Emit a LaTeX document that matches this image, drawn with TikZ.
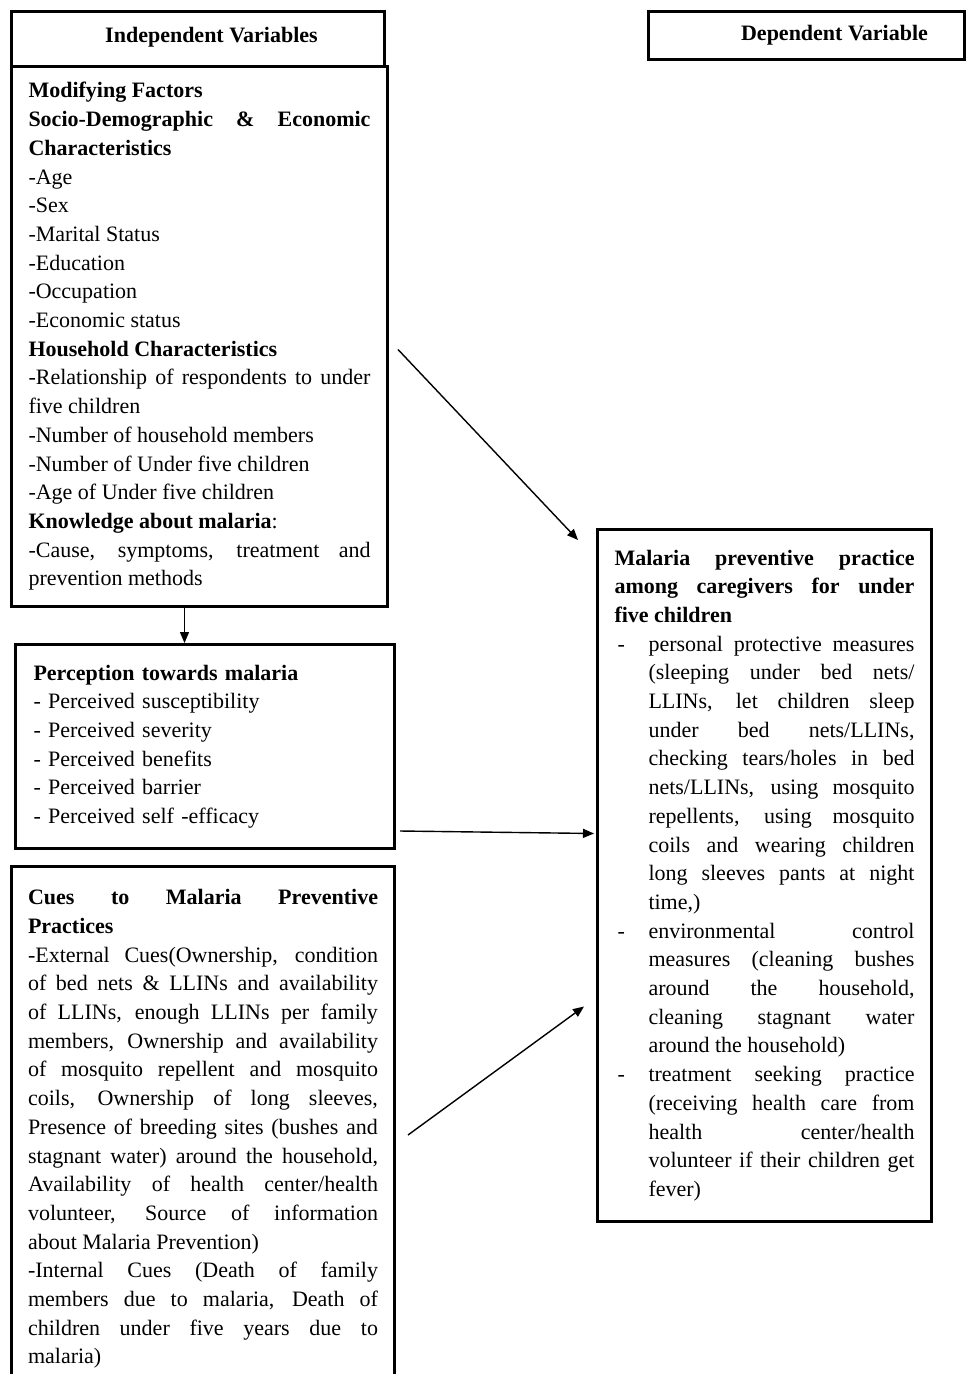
\documentclass[tikz,border=0pt]{standalone}
\usepackage{fontspec}
\setmainfont{Liberation Serif}
\usepackage{tikz}
\usetikzlibrary{
  arrows.meta,
  positioning,
  calc
}
\setlength{\parindent}{0pt}
\tolerance=10000
\hyphenpenalty=10000
\exhyphenpenalty=10000
\newcommand{\boxfont}{\fontsize{22}{28.7}\selectfont}
\newcommand{\dashitem}{\hangindent=34pt\hangafter=1\makebox[34pt][l]{\hspace{3pt}-}}

\begin{document}
\begin{tikzpicture}[x=1pt, y=-1pt,
  varbox/.style={draw, line width=3pt, inner xsep=17pt, anchor=north west, font=\boxfont},
  link/.style={-{Triangle[length=11pt,width=9pt]}, line width=1.4pt}]
  \useasboundingbox (0,0) rectangle (967,1374);
  % column headers
  \node[varbox, minimum width=373, minimum height=55] (indep) at (10,10)
    {\hspace*{27pt}\bfseries Independent Variables\rule[-8pt]{0pt}{0pt}};
  \node[varbox, minimum width=316, minimum height=48] (depend) at (647,10)
    {\hspace*{56pt}\bfseries Dependent Variable};
  % independent variables
  \node[varbox, text width=342, minimum height=540, align=justify] (mod) at (10,65)
    {{\bfseries Modifying Factors\par Socio-Demographic \& Economic\linebreak Characteristics\par}
     -Age\par -Sex\par -Marital Status\par -Education\par -Occupation\par -Economic status\par
     {\bfseries Household Characteristics\par}
     -Relationship of respondents to under\linebreak five children\par
     -Number of household members\par
     -Number of Under five children\par
     -Age of Under five children\par
     {\bfseries Knowledge about malaria}:\par
     -Cause, symptoms, treatment and\linebreak prevention methods};
  \node[varbox, inner xsep=18pt, text width=343, minimum height=204, align=left] (perc) at (14,643)
    {{\bfseries Perception towards malaria}\\
     - Perceived susceptibility\\
     - Perceived severity\\
     - Perceived benefits\\
     - Perceived barrier\\
     - Perceived self -efficacy};
  \node[varbox, inner xsep=16.5pt, text width=350, minimum height=525, align=justify] (cues) at (10,865)
    {{\bfseries Cues to Malaria Preventive\linebreak Practices\par}
     -External Cues(Ownership, condition\linebreak of bed nets \& LLINs and availability\linebreak
     of LLINs, enough LLINs per family\linebreak members, Ownership and availability\linebreak
     of mosquito repellent and mosquito\linebreak coils, Ownership of long sleeves,\linebreak
     Presence of breeding sites (bushes and\linebreak stagnant water) around the household,\linebreak
     Availability of health center/health\linebreak volunteer, Source of information\linebreak
     about Malaria Prevention)\par
     -Internal Cues (Death of family\linebreak members due to malaria, Death of\linebreak
     children under five years due to\linebreak malaria)};
  % dependent variable
  \node[varbox, text width=300, minimum height=692, align=justify] (dep) at (596,528)
    {{\bfseries Malaria preventive practice\linebreak among caregivers for under\linebreak five children\par}
     \dashitem personal protective measures\linebreak (sleeping under bed nets/\linebreak
     LLINs, let children sleep\linebreak under bed nets/LLINs,\linebreak
     checking tears/holes in bed\linebreak nets/LLINs, using mosquito\linebreak
     repellents, using mosquito\linebreak coils and wearing children\linebreak
     long sleeves pants at night\linebreak time,)\par
     \dashitem environmental control\linebreak measures (cleaning bushes\linebreak
     around the household,\linebreak cleaning stagnant water\linebreak around the household)\par
     \dashitem treatment seeking practice\linebreak (receiving health care from\linebreak
     health center/health\linebreak volunteer if their children get\linebreak fever)\par};
  % connectors
  \draw[link] ([shift={(9,13)}]mod.east) -- ([shift={(-18,12)}]dep.north west);
  \draw[link] ([xshift=-15pt]mod.south) -- ([xshift=-15pt]mod.south |- perc.north);
  \draw[link] ([shift={(4,-19)}]perc.south east) -- ([shift={(-2,-42)}]dep.west);
  \draw[link] ([shift={(12,270)}]cues.north east) -- ([shift={(-12,131)}]dep.west);
\end{tikzpicture}
\end{document}
